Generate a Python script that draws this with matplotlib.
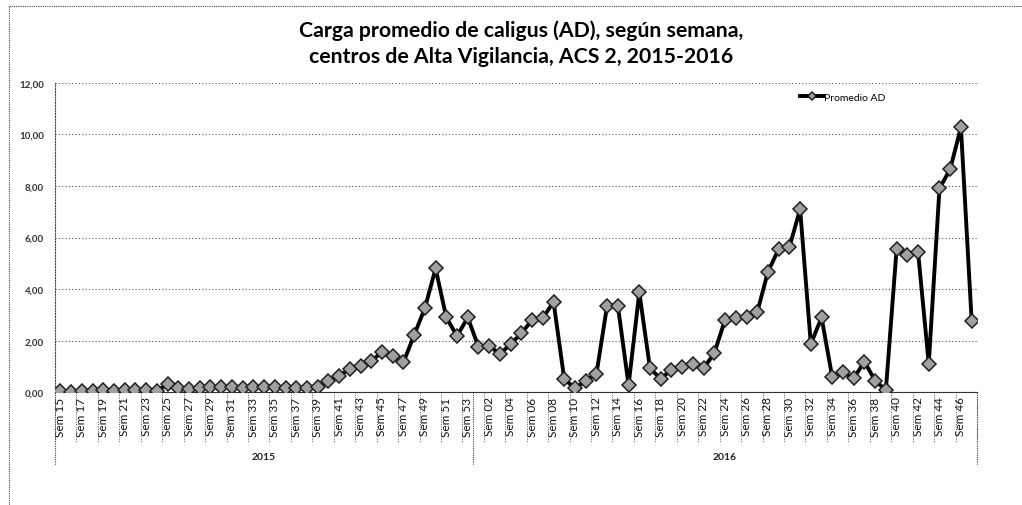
import matplotlib.pyplot as plt
from matplotlib.lines import Line2D
import numpy as np

plt.rcParams['font.family'] = ['Lato', 'DejaVu Sans']

# semanas por año
weeks_2015 = list(range(15, 54))
weeks_2016 = list(range(1, 48))

# carga promedio AD
prom_2015 = [0.05, 0.02, 0.05, 0.06, 0.08, 0.06, 0.08, 0.07, 0.10, 0.05,
             0.32, 0.15, 0.12, 0.18, 0.22, 0.20, 0.20, 0.18, 0.20, 0.22,
             0.22, 0.18, 0.15, 0.18, 0.22, 0.45, 0.64, 0.90, 1.03, 1.22,
             1.55, 1.40, 1.16, 2.22, 3.26, 4.80, 2.90, 2.18, 2.90]
prom_2016 = [1.76, 1.80, 1.48, 1.87, 2.28, 2.81, 2.87, 3.51, 0.52, 0.15,
             0.45, 0.71, 3.36, 3.36, 0.28, 3.87, 0.93, 0.52, 0.88, 0.97,
             1.10, 0.93, 1.52, 2.81, 2.87, 2.90, 3.10, 4.67, 5.55, 5.62,
             7.10, 1.87, 2.90, 0.58, 0.77, 0.54, 1.19, 0.45, 0.09, 5.55,
             5.32, 5.45, 1.10, 7.90, 8.65, 10.27, 2.78]
years = ['2015', '2016']

labels = ['Sem %02d' % w for w in weeks_2015] + ['Sem %02d' % w for w in weeks_2016]
values = prom_2015 + prom_2016
x = np.arange(len(values))
n15 = len(weeks_2015)

W, H = 1022, 506
fig = plt.figure(figsize=(W / 100, H / 100), dpi=100)
ax = fig.add_axes([55 / W, 1 - 393.3 / H, (977 - 55) / W, (393.3 - 83.7) / H])

ax.plot(x, values, color='black', lw=2.8, marker='D', ms=7,
        mfc='#a0a0a0', mec='#202020', mew=1.1, label='Promedio AD', zorder=3)

ax.set_xlim(-0.5, len(values) - 0.5)
ax.set_ylim(0, 12)
ax.set_yticks(np.arange(0, 13, 2))
ax.set_yticklabels(['%d,00' % v for v in range(0, 13, 2)], fontsize=7,
                   fontweight='bold', color='#333333')
ax.yaxis.grid(True, ls=(0, (1, 2)), color='#555555', lw=0.8)
ax.set_axisbelow(True)
for s in ['top', 'right']:
    ax.spines[s].set_visible(False)
ax.spines['left'].set_linestyle((0, (1, 1.5)))
ax.spines['left'].set_color('#444444')
ax.spines['left'].set_linewidth(0.8)
ax.spines['bottom'].set_color('#333333')
ax.spines['bottom'].set_linewidth(0.8)
ax.tick_params(axis='y', length=0, pad=8)

tick_pos = x[::2]
ax.set_xticks(tick_pos)
ax.set_xticklabels([labels[i] for i in tick_pos], rotation=90, fontsize=8.5,
                   va='top', ha='center', color='#111111')
ax.tick_params(axis='x', length=0, pad=3)

# cajas de etiquetas y separadores de año
tr = ax.get_xaxis_transform()
box_bottom = -(443 - 393.3) / (393.3 - 83.7)
grp_bottom = -(466 - 393.3) / (393.3 - 83.7)
for b in np.arange(-0.5, len(values), 2):
    ax.plot([b, b], [0, box_bottom], transform=tr, clip_on=False,
            color='#555555', lw=0.7, ls=(0, (1, 1.5)))
for b in [-0.5, n15 - 0.5, len(values) - 0.5]:
    ax.plot([b, b], [0, grp_bottom], transform=tr, clip_on=False,
            color='#444444', lw=0.8, ls=(0, (1, 1)))
year_y = -(458 - 393.3) / (393.3 - 83.7)
ax.text((n15 - 1) / 2, year_y, years[0], transform=tr, ha='center', va='center',
        fontsize=7.5, fontweight='bold', color='#222222')
ax.text((n15 + len(values) - 1) / 2, year_y, years[1], transform=tr, ha='center',
        va='center', fontsize=7.5, fontweight='bold', color='#222222')

fig.text(521 / W, 1 - 31 / H, 'Carga promedio de caligus (AD), según semana,',
         ha='center', va='center', fontsize=15.3, fontweight='bold')
fig.text(521 / W, 1 - 57 / H, 'centros de Alta Vigilancia, ACS 2, 2015-2016',
         ha='center', va='center', fontsize=15.3, fontweight='bold')

ax.legend(loc='center left', bbox_to_anchor=(795 / W, 1 - 98 / H),
          bbox_transform=fig.transFigure, frameon=False, fontsize=7.5,
          handlelength=2.2, handletextpad=0.1, borderpad=0, markerscale=0.6)

# marco del gráfico
fig.add_artist(Line2D([9 / W, 1], [1 - 7 / H, 1 - 7 / H], transform=fig.transFigure,
                      color='#444444', lw=0.8, ls=(0, (1, 1))))
fig.add_artist(Line2D([9 / W, 9 / W], [0, 1 - 7 / H], transform=fig.transFigure,
                      color='#444444', lw=0.8, ls=(0, (1, 1))))

fig.savefig('out.png', dpi=100)
